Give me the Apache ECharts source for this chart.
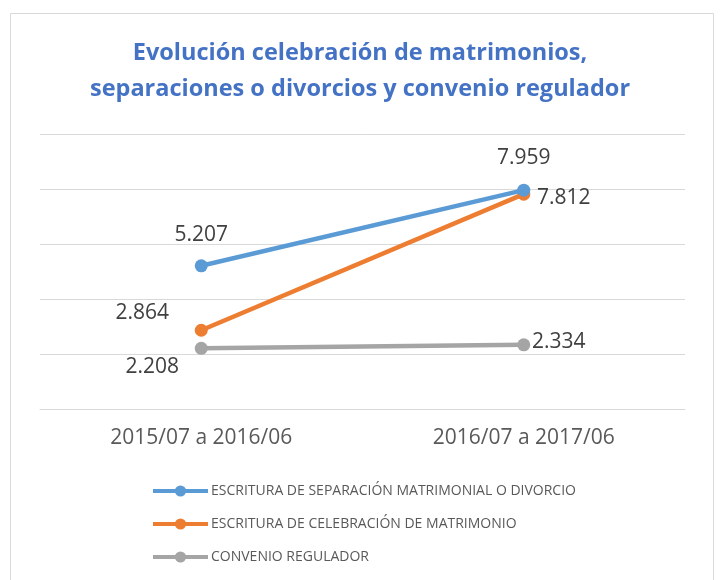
<!DOCTYPE html>
<html><head><meta charset="utf-8">
<script src="https://cdn.jsdelivr.net/npm/echarts@6/dist/echarts.min.js"></script>
<style>html,body{margin:0;padding:0;background:#fff}#c{width:720px;height:580px}</style>
</head><body><div id="c"></div>
<script>
const titleText = 'Evolución celebración de matrimonios,\nseparaciones o divorcios y convenio regulador';
const categories = ['2015/07 a 2016/06', '2016/07 a 2017/06'];
const seriesNames = ['ESCRITURA DE SEPARACIÓN MATRIMONIAL O DIVORCIO', 'ESCRITURA DE CELEBRACIÓN DE MATRIMONIO', 'CONVENIO REGULADOR'];
const separacion = [5.207, 7.959];
const celebracion = [2.864, 7.812];
const convenio = [2.208, 2.334];
const valueLabels = [['5.207', '7.959'], ['2.864', '7.812'], ['2.208', '2.334']];

const colors = ['#5B9BD5', '#ED7D31', '#A5A5A5'];
const labelOffsets = [
  [[0, -31], [0, -32]],
  [[-59, -17], [40, 4]],
  [[-49, 19], [35, -3]]
];
const FONT = 'Open Sans';
const allValues = [separacion, celebracion, convenio];

const chart = echarts.init(document.getElementById('c'), null, {renderer: 'canvas'});
chart.setOption({
  animation: false,
  backgroundColor: '#fff',
  title: {
    text: titleText, left: 'center', top: 30,
    textStyle: {color: '#4472C4', fontFamily: FONT, fontWeight: 'bold', fontSize: 23.5, lineHeight: 36}
  },
  graphic: [{type: 'rect', shape: {x: 10.5, y: 13.5, width: 703, height: 620},
    style: {fill: 'none', stroke: '#d9d9d9', lineWidth: 1}, silent: true}],
  grid: {left: 40, right: 35, top: 134, bottom: 171},
  xAxis: {
    type: 'category', data: categories, boundaryGap: true,
    axisLine: {show: true, lineStyle: {color: '#d9d9d9'}}, axisTick: {show: false},
    axisLabel: {color: '#595959', fontFamily: FONT, fontSize: 21, margin: 19}
  },
  yAxis: {
    type: 'value', min: 0, max: 10, interval: 2,
    axisLabel: {show: false}, axisLine: {show: false}, axisTick: {show: false},
    splitLine: {lineStyle: {color: '#d9d9d9', width: 1}}
  },
  legend: {
    orient: 'vertical', left: 146, top: 479, itemGap: 19, itemWidth: 55, itemHeight: 14,
    textStyle: {color: '#595959', fontFamily: FONT, fontSize: 14, padding: [0, 0, 0, -2]},
    lineStyle: {width: 4},
    data: seriesNames
  },
  series: allValues.map((vals, i) => ({
    name: seriesNames[i], type: 'line', data: vals.map((v, j) => ({
      value: v,
      label: {show: true, position: 'inside', offset: labelOffsets[i][j],
        formatter: () => valueLabels[i][j],
        color: '#404040', fontFamily: FONT, fontSize: 21}
    })),
    symbol: 'circle', symbolSize: 13,
    lineStyle: {color: colors[i], width: 4.5},
    itemStyle: {color: colors[i]},
    z: 10 - i
  }))
});
</script></body></html>
